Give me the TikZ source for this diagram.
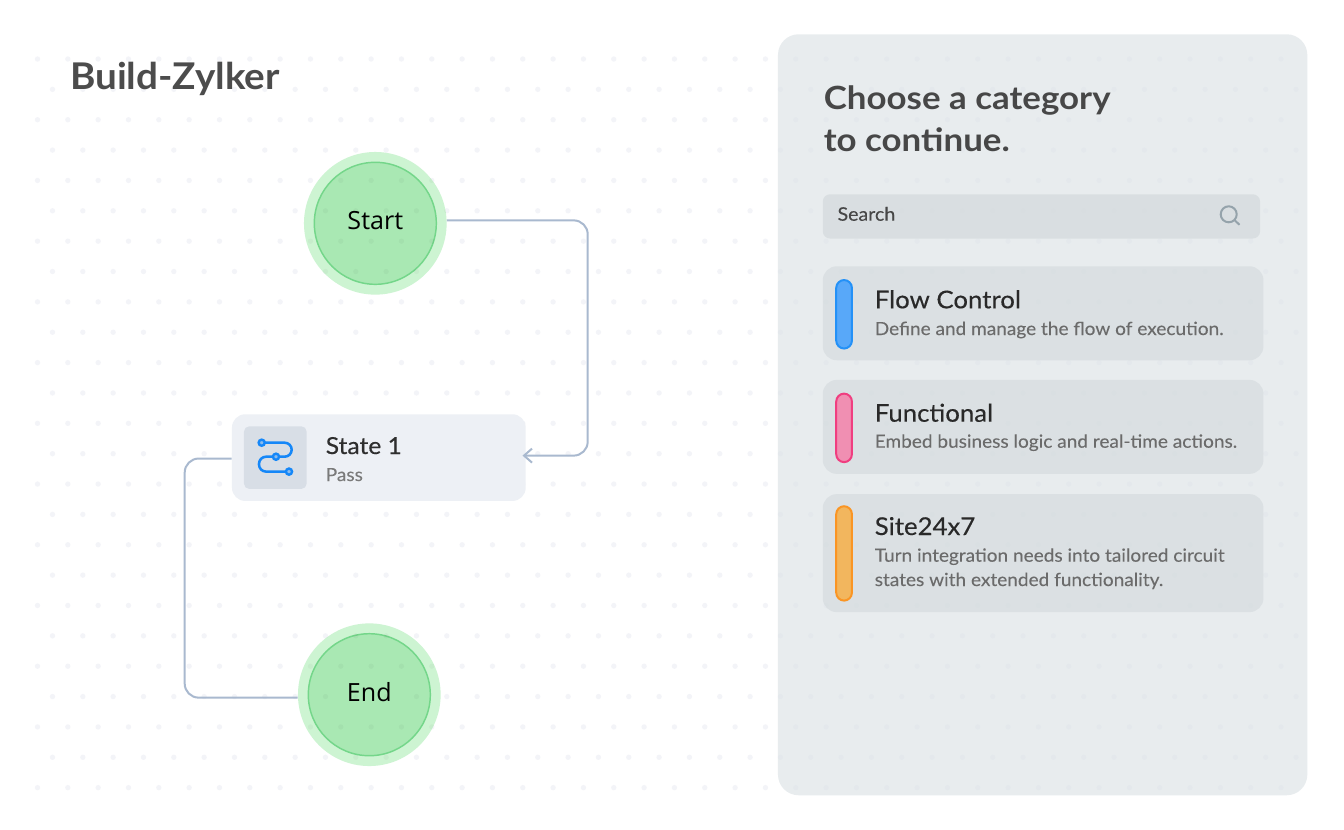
\documentclass[tikz,border=0pt]{standalone}
\usepackage{fontspec}
\setmainfont{Lato}
\newfontfamily\medfont[FakeBold=0.3,FakeStretch=1.05]{Lato}
\newfontfamily\descfont[FakeBold=0.1,FakeStretch=1.05]{Lato}
\newfontfamily\headfont[FakeStretch=1.09]{Lato}
\newfontfamily\brandfont[FakeStretch=1.05]{Lato}
\newfontfamily\roundfont{Open Sans}
\usepackage{tikz}
\usetikzlibrary{positioning,arrows.meta}

\definecolor{dotcol}{HTML}{F3F4F8}
\definecolor{panelcol}{HTML}{DCE3E6}
\definecolor{cardcol}{HTML}{D3D9DC}
\definecolor{searchcol}{HTML}{D0D6D9}
\definecolor{wirecol}{HTML}{A9B9CF}
\definecolor{ringcol}{HTML}{CDF4D2}
\definecolor{corecol}{HTML}{A9E8B3}
\definecolor{coreline}{HTML}{74D68A}
\definecolor{statecol}{HTML}{EDF0F5}
\definecolor{iconcol}{HTML}{D8DEE6}
\definecolor{iconblue}{HTML}{1587F8}

\newcommand{\dotgrid}[1]{
    \foreach \row in {0,...,24} {
        \pgfmathsetmacro{\rowx}{mod(\row,2)==0 ? 37.5 : 52.5}
        \foreach \col in {0,...,41} {
            \fill[#1] (\rowx+\col*30.33,59+\row*30.36) circle (2pt);
        }
    }
}

\tikzset{
    ring/.style={circle, fill=ringcol, minimum size=107pt, inner sep=0pt},
    core/.style={circle, draw=coreline, line width=1.1pt, fill=corecol, minimum size=91.5pt, inner sep=0pt,
        text height=12.7pt, text depth=3pt, font=\fontsize{18.8}{22}\roundfont, text=black},
    wire/.style={draw=wirecol, line width=1.5pt, rounded corners=10.5pt},
    card/.style={fill=cardcol, fill opacity=0.6, rounded corners=10.5pt, minimum width=330.5pt, inner sep=0pt},
    pill/.style={line width=1.5pt, rounded corners=6pt, minimum width=11.8pt, inner sep=0pt},
    cardtitle/.style={anchor=base west, inner sep=0pt, text=black!84, font=\fontsize{18.4}{22}\medfont},
    carddesc/.style={anchor=base west, inner sep=0pt, text=black!58, align=left, font=\fontsize{13.6}{18.4}\descfont},
    heading/.style={anchor=base west, inner sep=0pt, text=black!72, font=\fontsize{24}{32}\headfont\bfseries},
}

\begin{document}
\begin{tikzpicture}[x=0.75pt,y=-0.75pt]

\useasboundingbox (0,0) rectangle (1344,829);
\fill[white] (0,0) rectangle (1344,829);

\dotgrid{dotcol}

\node[
    fill=panelcol,
    fill opacity=0.65,
    rounded corners=15.5pt,
    minimum width=397pt,
    minimum height=570.75pt,
    inner sep=0pt,
    anchor=north west
] (panel) at (777.7,34) {};

\node[
    fill=searchcol,
    fill opacity=0.6,
    rounded corners=5.5pt,
    minimum width=328pt,
    minimum height=33.2pt,
    inner sep=0pt,
    anchor=north west
] (search) at (822.5,194) {};

\node[
    card,
    minimum height=70.5pt,
    anchor=north west
] (card1) at (822.5,266) {};

\node[
    card,
    below=14.3pt of card1,
    minimum height=70.5pt
] (card2) {};

\node[
    card,
    below=14.8pt of card2,
    minimum height=88.5pt
] (card3) {};

\node[
    pill,
    draw={rgb,255:red,36;green,145;blue,247},
    fill={rgb,255:red,88;green,168;blue,249},
    minimum height=51.4pt,
    anchor=north west
] (pill1) at (835.2,279) {};

\node[
    pill,
    draw={rgb,255:red,240;green,62;blue,128},
    fill={rgb,255:red,240;green,143;blue,178},
    minimum height=51.4pt,
    anchor=north west
] (pill2) at (835.2,392.6) {};

\node[
    pill,
    draw={rgb,255:red,250;green,149;blue,36},
    fill={rgb,255:red,242;green,182;blue,94},
    minimum height=70.8pt,
    anchor=north west
] (pill3) at (835.2,505.2) {};

\node[
    anchor=base west,
    inner sep=0pt,
    text=black!70,
    font=\fontsize{27.6}{32}\brandfont\bfseries
] (title) at (70,89.5) {Build-Zylker};
\node[heading] (choose1) at (823.5,109.2) {Choose a category};
\node[heading] (choose2) at (823.5,151.2) {to continue.};

\node[
    anchor=base west,
    inner sep=0pt,
    text=black!72,
    font=\fontsize{14}{16}\descfont
] (searchtext) at (837.3,220.7) {Search};

\node[cardtitle] (name1) at (874.5,308.3) {Flow Control};
\node[carddesc] (desc1) at (874.5,335) {Define and manage the flow of execution.};
\node[cardtitle] (name2) at (874.5,421.7) {Functional};
\node[carddesc] (desc2) at (874.5,447.7) {Embed business logic and real-time actions.};
\node[cardtitle] (name3) at (874.5,535) {Site24x7};
\node[carddesc] (desc3) at (874.5,561.7) {Turn integration needs into tailored circuit};
\node[carddesc] (desc4) at (874.5,586) {states with extended functionality.};

\node[ring] (start) at (375.3,223.3) {};
\node[core] (startcore) at (start) {Start};
\node[ring] (end) at (369.3,694.7) {};
\node[core] (endcore) at (end) {End};

\begin{scope}
\clip (start) circle (71.3);
\dotgrid{black,opacity=0.03}
\end{scope}
\begin{scope}
\clip (end) circle (71.3);
\dotgrid{black,opacity=0.03}
\end{scope}

\node[
    fill=statecol,
    rounded corners=10pt,
    minimum width=220.3pt,
    minimum height=65pt,
    inner sep=0pt,
    anchor=north west
] (state1) at (231.7,414) {};

\node[
    fill=iconcol,
    rounded corners=4pt,
    minimum size=47pt,
    inner sep=0pt,
    anchor=north west
] (icon) at (243.7,426) {};

\node[
    anchor=base west,
    inner sep=0pt,
    text=black!82,
    font=\fontsize{17.6}{22}\medfont
] (statename) at (325.5,454) {State 1};

\node[
    anchor=base west,
    inner sep=0pt,
    text=black!52,
    font=\fontsize{13.6}{16}\descfont
] (statekind) at (325.5,481) {Pass};

\draw[iconblue, line width=1.9pt, rounded corners=5.3pt]
    (261.7,442.7) -- (291.7,442.7) -- (291.7,456.7) -- (259,456.7) -- (259,471.6) -- (289,471.6);
\filldraw[iconblue, fill=iconcol!60!iconblue, line width=1.8pt] (261.7,442.7) circle (2.3pt);
\filldraw[iconblue, fill=iconcol!60!iconblue, line width=1.8pt] (276,456.7) circle (2.3pt);
\filldraw[iconblue, fill=iconcol!60!iconblue, line width=1.8pt] (289,471.6) circle (2.3pt);

\draw[line width=1.5pt, color={rgb,255:red,149;green,163;blue,171}]
    (1228.7,214.3) circle (6pt) (1234.2,219.8) -- (1239.5,224.8);

\coordinate (startout) at ([yshift=2.2pt]start.east);
\coordinate (statein) at ([xshift=-2.6pt,yshift=1.5pt]state1.east);
\coordinate (stateout) at ([yshift=-0.7pt]state1.west);
\coordinate (endin) at ([yshift=-2.2pt]end.west);

\draw[wire, -{Straight Barb[length=6pt,width=10.5pt]}]
    (startout) -- (587.7,0 |- startout) -- (587.7,0 |- statein) -- (statein);
\draw[wire]
    (stateout) -- (184.7,0 |- stateout) -- (184.7,0 |- endin) -- (endin);

\end{tikzpicture}
\end{document}
